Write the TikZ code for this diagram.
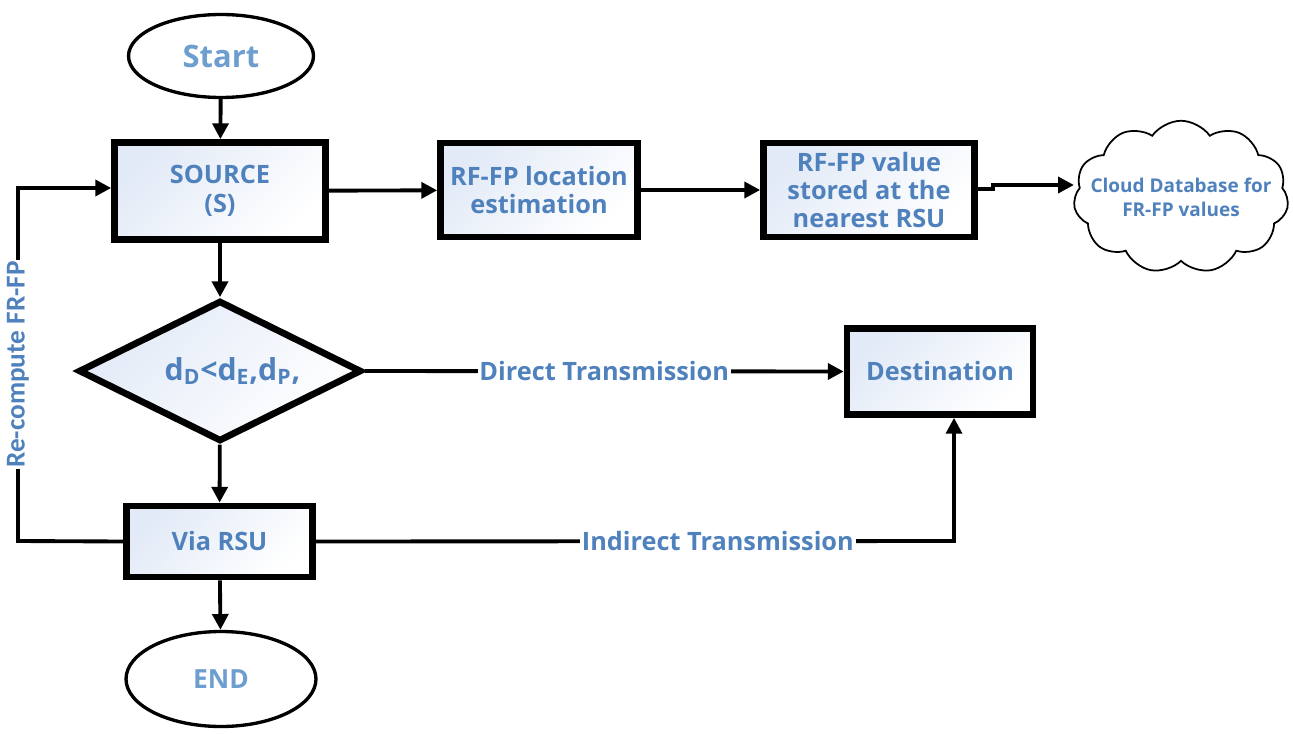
\documentclass[tikz,border=0pt]{standalone}
\usepackage{fontspec}
\setmainfont{Open Sans}
\newfontfamily\condfont{Carlito}
\usetikzlibrary{arrows.meta,shapes.geometric,shapes.symbols}
\definecolor{txtblue}{RGB}{79,129,189}
\definecolor{lightblue}{RGB}{110,158,208}
\definecolor{boxfill}{RGB}{226,234,247}
\tikzset{
  px/.style={x=0.02cm,y=-0.02cm},
  procbox/.style={draw=black,line width=3.8pt,left color=boxfill,right color=white,shading angle=45,
    inner sep=2pt,align=center,font=\bfseries\fontsize{14.4}{16.3}\selectfont,text=txtblue},
  term/.style={ellipse,draw=black,line width=1.9pt,fill=white,inner sep=0pt,text=lightblue},
  conn/.style={line width=2.2pt,-{Triangle[length=9pt,width=9pt]}},
  lbl/.style={fill=white,inner sep=1pt,text=txtblue,font=\bfseries\fontsize{14.4}{16}\selectfont}
}
\begin{document}
\begin{tikzpicture}[px]
\useasboundingbox (0,0) rectangle (1293,733);
\node[term,minimum width=3.7cm,minimum height=1.66cm,font=\bfseries\fontsize{17.6}{20}\selectfont] (start) at (221,56) {Start};
\node[procbox,minimum width=4.22cm,minimum height=1.94cm] (source) at (220,191) {SOURCE\\(S)};
\node[procbox,minimum width=3.94cm,minimum height=1.88cm] (rfloc) at (539,190) {RF-FP location\\estimation};
\node[procbox,minimum width=4.22cm,minimum height=1.88cm,font=\bfseries\fontsize{14.4}{15.8}\selectfont] (rfval) at (869,190) {RF-FP value\\stored at the\\nearest RSU};
\node[cloud,cloud puffs=11,cloud puff arc=110,aspect=1.5,draw=black,line width=1pt,fill=white,
  minimum width=4.3cm,minimum height=3.05cm,inner xsep=-0.9cm,inner ysep=-0.3cm,align=center,text=txtblue,
  font=\bfseries\fontsize{10.8}{13.5}\selectfont] (cloud) at (1181,197) {Cloud Database for\\FR-FP values};
\node[diamond,draw=black,line width=3.8pt,left color=boxfill,right color=white,shading angle=45,
  minimum width=5.66cm,minimum height=2.82cm,inner sep=-0.8cm,text=txtblue,
  font=\bfseries\fontsize{17.2}{20}\selectfont] (dec) at (220,371)
  {\hspace*{0.5cm}d\textsubscript{D}<d\textsubscript{E},d\textsubscript{P},};
\node[procbox,minimum width=3.72cm,minimum height=1.72cm] (dest) at (940,371.5) {Destination};
\node[procbox,minimum width=3.72cm,minimum height=1.42cm] (via) at (219.5,541.5) {Via RSU};
\node[term,minimum width=3.8cm,minimum height=1.9cm,font=\bfseries\fontsize{15}{18}\selectfont] (endn) at (221,679) {END};

\draw[conn] (start) -- (source);
\draw[conn] (source) -- (rfloc);
\draw[conn] (rfloc) -- (rfval);
\coordinate (jog1) at (993,189);
\coordinate (jog2) at (993,185);
\draw[conn] (rfval.east |- jog1) -- (jog1) -- (jog2) -- (cloud.west |- jog2);
\draw[conn] (source) -- (dec);
\draw[conn] (dec) -- (via);
\draw[conn] (via) -- (endn);
\draw[conn] (dec.east) -- node[lbl,pos=0.5] {Direct Transmission} (dest.west);
\coordinate (ind) at (954,541);
\draw[conn] (via.east) -- node[lbl,pos=0.63] {Indirect Transmission} (ind) -- (ind |- dest.south);
\coordinate (rl) at (18,541);
\coordinate (ru) at (18,188);
\draw[conn] (via.west) -- (rl) -- node[lbl,rotate=90,pos=0.5,font=\condfont\bfseries\fontsize{15.5}{18}\selectfont] {Re-compute FR-FP} (ru) -- (source.west |- ru);
\end{tikzpicture}
\end{document}
